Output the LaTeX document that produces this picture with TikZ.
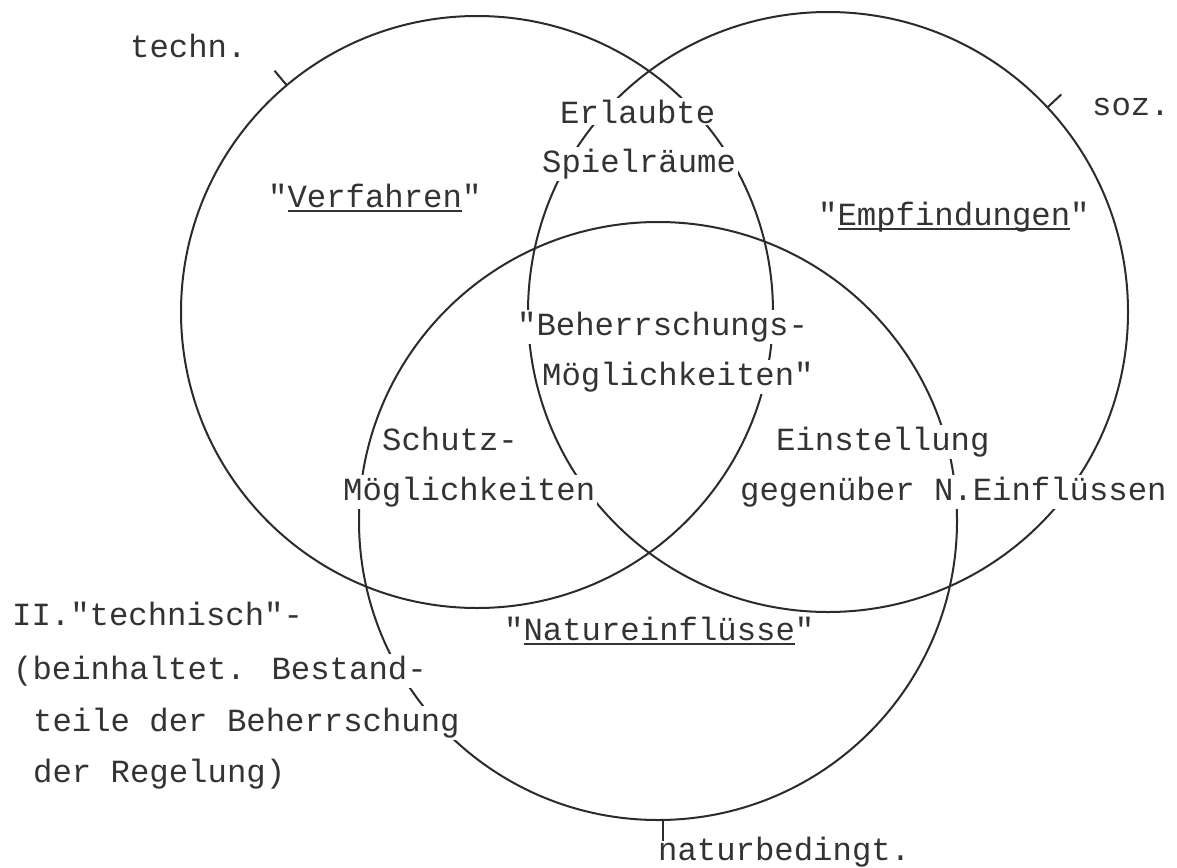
\documentclass[tikz,border=0pt]{standalone}
\usepackage{fontspec}
\newfontfamily\tw{Liberation Mono}
\definecolor{ink}{HTML}{333333}
\definecolor{pen}{HTML}{2B2B2B}
\newcommand\uln[1]{\setbox0\hbox{#1}\rlap{\rule[-5pt]{\wd0}{1.6pt}}\box0}
\tikzset{
  ring/.style={circle, draw=pen, line width=2pt, inner sep=0pt},
  lbl/.style={font=\tw\fontsize{32.3}{38}\selectfont, text=ink, anchor=base west, inner sep=2pt, fill=white},
  tickline/.style={draw=pen, line width=2pt}
}
\begin{document}
\begin{tikzpicture}[x=1pt,y=-1pt]
\fill[white] (0,0) rectangle (1177,867);
\useasboundingbox (0,0) rectangle (1177,867);
% circles
\node[ring, minimum size=592pt] (CL) at (477,312) {};
\node[ring, minimum size=600pt] (CR) at (828,312) {};
\node[ring, minimum size=598pt] (CB) at (658,521) {};
% labels
\node[lbl] (techn) at (128,58) {techn.};
\node[lbl] (soz) at (1090,115) {soz.};
\node[lbl] (erl) at (558,123) {Erlaubte};
\node[lbl] (spiel) at (540,172) {Spielräume};
\node[lbl] (verf) at (266,207) {"\uln{Verfahren}"};
\node[lbl] (empf) at (816,225) {"\uln{Empfindungen}"};
\node[lbl] (beh) at (515,335) {"Beherrschungs-};
\node[lbl] (moeg) at (540,385) {Möglichkeiten"};
\node[lbl] (schutz) at (380,450) {Schutz-};
\node[lbl] (schutzm) at (341,500) {Möglichkeiten};
\node[lbl] (einst) at (774,450) {Einstellung};
\node[lbl] (gegen) at (738,500) {gegenüber N.Einflüssen};
\node[lbl] (tech2) at (10,625) {II."technisch"-};
\node[lbl] (bein) at (11,679) {(beinhaltet. Bestand-};
\node[lbl] (teile) at (31,731) {teile der Beherrschung};
\node[lbl] (regel) at (31,782) {der Regelung)};
\node[lbl] (natur) at (502,640) {"\uln{Natureinflüsse}"};
\node[lbl] (natb) at (656,860) {naturbedingt.};
% ticks
\draw[tickline] (CL.130) -- ++(130:18pt);
\draw[tickline] (CR.43) -- ++(43:18pt);
\draw[tickline] (CB.271) -- ++(0,-20pt);
\end{tikzpicture}
\end{document}
